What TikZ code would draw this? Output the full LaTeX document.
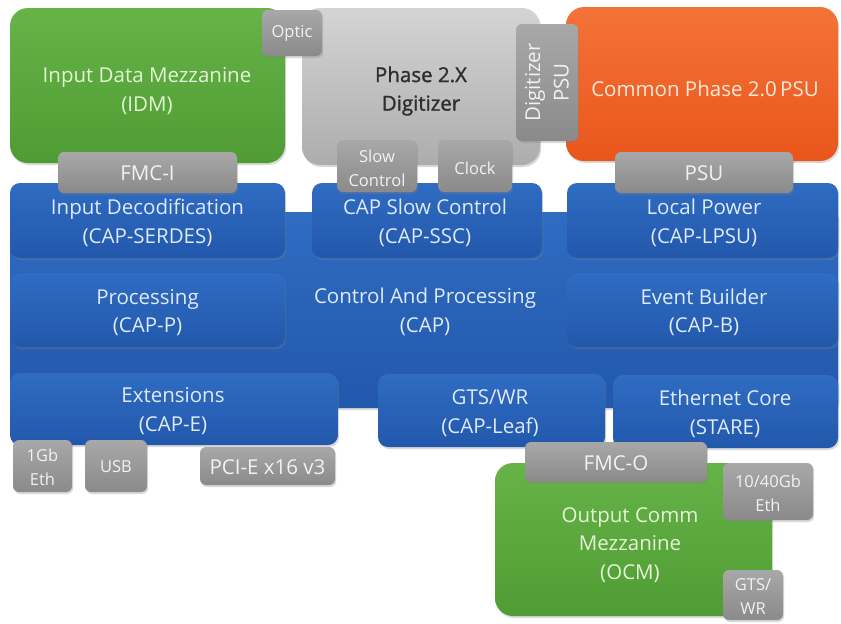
\documentclass[tikz,border=0pt]{standalone}
\usepackage{fontspec}
\setmainfont{Open Sans}
\newfontfamily\digfont[FakeBold=1.3]{Open Sans}
\usetikzlibrary{shadows}

\definecolor{grnTop}{HTML}{66B448}
\definecolor{grnBot}{HTML}{4E9C33}
\definecolor{grnTxt}{HTML}{E4F4D4}
\definecolor{orgTop}{HTML}{F47338}
\definecolor{orgBot}{HTML}{E9561C}
\definecolor{orgTxt}{HTML}{FFE9D8}
\definecolor{bluTop}{HTML}{2F6CC2}
\definecolor{bluBot}{HTML}{2258AC}
\definecolor{bluTxt}{HTML}{DFEAFA}
\definecolor{conTop}{HTML}{A8A8A8}
\definecolor{conBot}{HTML}{8A8A8A}
\definecolor{conTxt}{HTML}{F2F2F2}
\definecolor{digTop}{HTML}{D4D4D4}
\definecolor{digBot}{HTML}{ADADAD}
\definecolor{digTxt}{HTML}{2E2E2E}

\newcommand\fsBig{\fontsize{20.5}{28.5}\selectfont}
\newcommand\fsSmall{\fontsize{16.5}{24}\selectfont}

\tikzset{
  unit/.style={inner sep=0pt, draw=none,
    drop shadow={opacity=0.3, shadow xshift=1.2pt, shadow yshift=-2pt}},
  mezz/.style={unit, rounded corners=18pt, top color=grnTop, bottom color=grnBot},
  psubox/.style={unit, rounded corners=18pt, top color=orgTop, bottom color=orgBot},
  digbox/.style={unit, rounded corners=18pt, top color=digTop, bottom color=digBot},
  capblk/.style={unit, rounded corners=10pt, top color=bluTop, bottom color=bluBot},
  port/.style={unit, rounded corners=6pt, top color=conTop, bottom color=conBot},
  lbl/.style={inner sep=0pt, align=center, font=\fsBig},
  grnlbl/.style={lbl, text=grnTxt},
  orglbl/.style={lbl, text=orgTxt},
  blulbl/.style={lbl, text=bluTxt},
  conlbl/.style={lbl, text=conTxt},
  conlblsm/.style={conlbl, font=\fsSmall},
}

\begin{document}
\begin{tikzpicture}[x=1pt, y=-1pt]
\useasboundingbox (0,0) rectangle (841,624);

% ---- top row: mezzanine, digitizer, power supply
\node (idm) [mezz, minimum width=275pt, minimum height=155pt] at (147.5,85.5) {};
\node [grnlbl] at (147,91) {Input Data Mezzanine\\(IDM)};
\node (dig) [digbox, minimum width=238pt, minimum height=157pt] at (421,86.5) {};
\node [lbl, text=digTxt, font=\fsBig\digfont] at (421,91) {Phase 2.X\\Digitizer};
\node (optic) [port, minimum width=60pt, minimum height=46pt] at (292,33) {};
\node [conlblsm] at (optic.center) {Optic};
\node (cpsu) [psubox, minimum width=272pt, minimum height=154pt] at (702,84) {};
\node [orglbl] at (705,89) {Common Phase 2.0\,PSU};
\node (dpsu) [port, minimum width=62pt, minimum height=117pt] at (547,82.5) {};
\node [conlbl, rotate=90] at (dpsu.center) {Digitizer\\PSU};

% ---- control and processing carrier
\node (cap) [capblk, rounded corners=6pt, minimum width=828pt, minimum height=196pt,
  anchor=north west] at (10,212) {};
\node [blulbl] at (425,312) {Control And Processing\\(CAP)};

\node (serdes) [capblk, minimum width=275pt, minimum height=75pt] at (147.5,220.5) {};
\node [blulbl] at (147.5,223) {Input Decodification\\(CAP-SERDES)};
\node (ssc) [capblk, minimum width=230pt, minimum height=75pt] at (427,220.5) {};
\node [blulbl] at (425,223) {CAP Slow Control\\(CAP-SSC)};
\node (lpsu) [capblk, minimum width=271pt, minimum height=75pt] at (702.5,220.5) {};
\node [blulbl] at (704,223) {Local Power\\(CAP-LPSU)};

\node (capp) [capblk, minimum width=275pt, minimum height=74pt] at (147.5,310) {};
\node [blulbl] at (147.5,312.5) {Processing\\(CAP-P)};
\node (capb) [capblk, minimum width=271pt, minimum height=74pt] at (702.5,310) {};
\node [blulbl] at (704,312.5) {Event Builder\\(CAP-B)};

\node (cape) [capblk, minimum width=328pt, minimum height=72pt] at (174,409) {};
\node [blulbl] at (173,411) {Extensions\\(CAP-E)};
\node (leaf) [capblk, minimum width=227pt, minimum height=73pt] at (491.5,410.5) {};
\node [blulbl] at (490,413) {GTS/WR\\(CAP-Leaf)};
\node (stare) [capblk, minimum width=225pt, minimum height=73pt] at (725.5,411.5) {};
\node [blulbl] at (725,414) {Ethernet Core\\(STARE)};

% ---- connectors between the boards
\node (fmci) [port, minimum width=179pt, minimum height=41pt] at (147.5,172.5) {};
\node [conlbl] at (147.5,173.5) {FMC-I};
\node (slow) [port, minimum width=80pt, minimum height=52pt] at (377,166) {};
\node [conlblsm] at (377,168) {Slow\\Control};
\node (clock) [port, minimum width=74pt, minimum height=52pt] at (475,166) {};
\node [conlblsm] at (475,168) {Clock};
\node (psu) [port, minimum width=178pt, minimum height=41pt] at (704,172.5) {};
\node [conlbl] at (704,173.5) {PSU};

% ---- extension ports
\node (eth1) [port, minimum width=59pt, minimum height=52pt] at (42.5,466) {};
\node [conlblsm] at (42.5,467.5) {1Gb\\Eth};
\node (usb) [port, minimum width=62pt, minimum height=52pt] at (116,466) {};
\node [conlblsm] at (116,467) {USB};
\node (pcie) [port, minimum width=135pt, minimum height=38pt] at (267.5,466) {};
\node [conlbl] at (267.5,467) {PCI-E x16 v3};

% ---- output mezzanine
\node (ocm) [mezz, minimum width=277pt, minimum height=153pt] at (633.5,539.5) {};
\node [grnlbl] at (630,545) {Output Comm\\Mezzanine\\(OCM)};
\node (fmco) [port, minimum width=182pt, minimum height=40pt] at (616,462) {};
\node [conlbl] at (616,463) {FMC-O};
\node (eth40) [port, minimum width=90pt, minimum height=57pt] at (768,491.5) {};
\node [conlblsm] at (768,493) {10/40Gb\\Eth};
\node (gtswr) [port, minimum width=60pt, minimum height=50pt] at (753,595) {};
\node [conlblsm] at (753,597) {GTS/\\WR};
\end{tikzpicture}
\end{document}
